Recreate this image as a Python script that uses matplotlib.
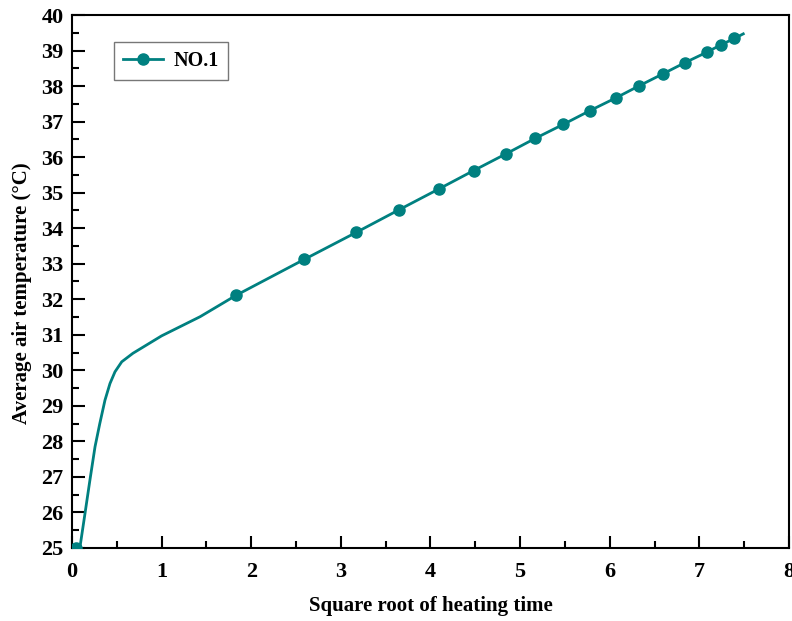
import numpy as np
import matplotlib.pyplot as plt
from matplotlib.ticker import MultipleLocator

# curve (sqrt of time, temperature)
x_line = [0.0, 0.05, 0.09, 0.145, 0.2, 0.257, 0.31, 0.368, 0.424, 0.48, 0.555,
          0.68, 1.0, 1.43, 1.83, 2.59, 3.17, 3.65, 4.09, 4.48, 4.84, 5.17,
          5.48, 5.78, 6.07, 6.33, 6.59, 6.84, 7.08, 7.24, 7.39, 7.49]
y_line = [25.0, 25.0, 25.04, 25.97, 26.91, 27.85, 28.5, 29.16, 29.63, 29.96, 30.24,
          30.48, 30.97, 31.51, 32.11, 33.12, 33.88, 34.52, 35.10, 35.62, 36.09, 36.53,
          36.92, 37.31, 37.67, 38.01, 38.34, 38.66, 38.95, 39.16, 39.34, 39.47]

# marker positions
x_mark = [0.04, 1.83, 2.59, 3.17, 3.65, 4.09, 4.48, 4.84, 5.17, 5.48,
          5.78, 6.07, 6.33, 6.59, 6.84, 7.08, 7.24, 7.39]
y_mark = [25.0, 32.11, 33.12, 33.88, 34.52, 35.10, 35.62, 36.09, 36.53, 36.92,
          37.31, 37.67, 38.01, 38.34, 38.66, 38.95, 39.16, 39.34]

color = '#008080'
plt.rcParams['font.family'] = 'Liberation Serif'
plt.rcParams['font.weight'] = 'bold'

fig = plt.figure(figsize=(7.92, 6.21), dpi=100)
ax = fig.add_axes([0.0909, 0.1176, 0.9053, 0.8582])

ax.plot(x_line, y_line, color=color, lw=2, zorder=3)
ax.plot(x_mark, y_mark, 'o', color=color, ms=8, zorder=4)
ax.plot([], [], '-o', color=color, lw=2, ms=8, label='NO.1')

ax.set_xlim(0, 8)
ax.set_ylim(25, 40)
ax.xaxis.set_major_locator(MultipleLocator(1))
ax.xaxis.set_minor_locator(MultipleLocator(0.5))
ax.yaxis.set_major_locator(MultipleLocator(1))
ax.yaxis.set_minor_locator(MultipleLocator(0.5))
ax.tick_params(which='both', direction='in', top=False, right=False,
               labelsize=16, width=1.5)
ax.tick_params(which='major', length=9)
ax.tick_params(which='minor', length=5)
ax.tick_params(axis='x', pad=10)
ax.tick_params(axis='y', pad=6)
for lab in ax.get_xticklabels() + ax.get_yticklabels():
    lab.set_fontweight('bold')
for s in ax.spines.values():
    s.set_linewidth(1.5)

ax.set_xlabel('Square root of heating time', fontsize=15, fontweight='bold', labelpad=10)
ax.set_ylabel('Average air temperature (°C)', fontsize=15, fontweight='bold')
ax.yaxis.set_label_coords(-0.0555, 0.4775)

leg = ax.legend(loc='upper left', bbox_to_anchor=(0.0586, 0.949), borderaxespad=0,
                fontsize=14.5, fancybox=False, edgecolor='#555555',
                handlelength=2.0, handletextpad=0.5, borderpad=0.45)
leg.get_frame().set_linewidth(1.0)

fig.savefig('out.png', dpi=100)
